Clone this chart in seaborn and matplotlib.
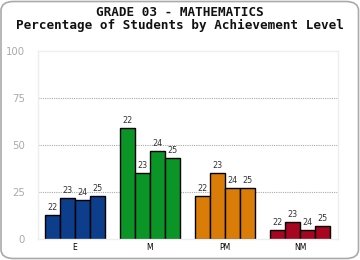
import matplotlib
matplotlib.use("Agg")
import matplotlib.pyplot as plt
import seaborn as sns
import pandas as pd
from matplotlib.patches import FancyBboxPatch

levels = ["E", "M", "PM", "NM"]
years = ["22", "23", "24", "25"]
vals_22 = [13, 59, 23, 5]
vals_23 = [22, 35, 35, 9]
vals_24 = [21, 47, 27, 5]
vals_25 = [23, 43, 27, 7]
level_colors = ["#0c3e8c", "#0b9526", "#d97c08", "#a60620"]
title_lines = ["GRADE 03 - MATHEMATICS", "Percentage of Students by Achievement Level"]
yticks = [0, 25, 50, 75, 100]

rows = []
for yr, vals in zip(years, [vals_22, vals_23, vals_24, vals_25]):
    for lv, v in zip(levels, vals):
        rows.append({"level": lv, "year": yr, "value": v})
df = pd.DataFrame(rows)

sns.set_style("white")
fig = plt.figure(figsize=(3.6, 2.6), dpi=100)
ax = fig.add_axes([37.5 / 360, 21 / 260, 300 / 360, 188 / 260])

sns.barplot(data=df, x="level", y="value", hue="year", order=levels,
            hue_order=years, ax=ax, width=0.8, edgecolor="black",
            linewidth=1.0, legend=False, saturation=1)

for cont, yr in zip(ax.containers, years):
    for i, bar in enumerate(cont):
        bar.set_facecolor(level_colors[i])
    ax.bar_label(cont, labels=[yr] * len(cont), padding=2,
                 fontsize=5.8, color="#333333")

ax.set_xlim(-0.5, 3.5)
ax.set_ylim(0, 100)
ax.set_yticks(yticks)
ax.set_yticklabels([str(t) for t in yticks], fontsize=7.3, color="#aaaaaa")
ax.tick_params(axis="y", length=3, color="#999999", pad=6, width=0.8)
ax.tick_params(axis="x", length=0, pad=3, labelsize=5.5, labelcolor="black")
ax.set_xlabel("")
ax.set_ylabel("")
for t in [25, 50, 75]:
    ax.axhline(t, color="#aaaaaa", linestyle=(0, (1, 1)), linewidth=0.8, zorder=0)
for s in ax.spines.values():
    s.set_color("#eeeeee")
    s.set_linewidth(1)

fig.text(0.5, 1 - 13 / 260, title_lines[0], ha="center", va="center",
         family="DejaVu Sans Mono", fontweight="bold", fontsize=9.1, color="#111111")
fig.text(0.5, 1 - 25 / 260, title_lines[1], ha="center", va="center",
         family="DejaVu Sans Mono", fontweight="bold", fontsize=9.1, color="#111111")

border = FancyBboxPatch((1.0 / 360, 1.5 / 260), 357.5 / 360, 257 / 260,
                        boxstyle="round,pad=0,rounding_size=0.035",
                        transform=fig.transFigure, fill=False,
                        edgecolor="#aaaaaa", linewidth=1.2)
fig.patches.append(border)

fig.savefig("out.png", dpi=100)
